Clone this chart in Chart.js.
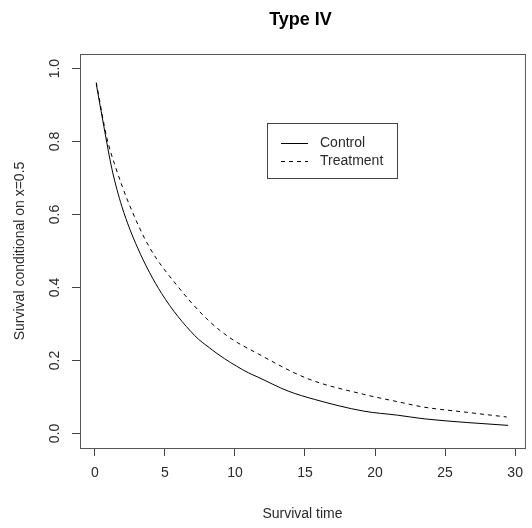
<!DOCTYPE html>
<html>
<head>
<meta charset="utf-8">
<title>Type IV</title>
<script src="https://cdn.jsdelivr.net/npm/chart.js@4.4.1/dist/chart.umd.min.js"></script>
<style>
  html, body { margin: 0; padding: 0; background: #fff; }
  canvas { display: block; }
</style>
</head>
<body>
<canvas id="chart" width="532" height="528"></canvas>
<script>
// values
const controlTime = [0.1, 0.64, 1.23, 1.93, 3.06, 4.76, 7.13, 8.2, 9.25, 10.97, 11.6, 13.8, 15.7, 19.2, 21.6, 23.5, 26.5, 29.5];
const controlSurv = [0.958, 0.842, 0.723, 0.622, 0.508, 0.384, 0.268, 0.234, 0.205, 0.166, 0.155, 0.116, 0.093, 0.061, 0.050, 0.040, 0.030, 0.022];
const treatTime = [0.1, 0.87, 1.46, 2.41, 3.87, 5.94, 8.07, 9.72, 11.37, 15.2, 19.2, 21.6, 23.5, 26.5, 29.4];
const treatSurv = [0.962, 0.808, 0.732, 0.632, 0.512, 0.402, 0.311, 0.260, 0.224, 0.150, 0.107, 0.087, 0.072, 0.058, 0.045];
const seriesNames = ['Control', 'Treatment'];
const xTickValues = [0, 5, 10, 15, 20, 25, 30];
const yTickValues = [0, 0.2, 0.4, 0.6, 0.8, 1.0];
const yTickLabels = ['0.0', '0.2', '0.4', '0.6', '0.8', '1.0'];

const toPoints = (xs, ys) => xs.map((x, i) => ({x: x, y: ys[i]}));

const family = '"Liberation Sans", Arial, sans-serif';
const ink = '#2a2a2a';

// title, plot frame and boxed legend, R style
const rDecor = {
  id: 'rDecor',
  afterDatasetsDraw(chart) {
    const {ctx, chartArea: a} = chart;
    ctx.save();
    ctx.strokeStyle = '#555';
    ctx.lineWidth = 1;
    ctx.setLineDash([]);
    ctx.strokeRect(a.left + 0.5, a.top + 0.5, a.right - a.left, a.bottom - a.top);

    ctx.fillStyle = '#000';
    ctx.font = 'bold 18px ' + family;
    ctx.textAlign = 'center';
    ctx.textBaseline = 'alphabetic';
    ctx.fillText('Type IV', (a.left + a.right) / 2 - 2, 25);

    // legend
    ctx.strokeStyle = '#444';
    ctx.strokeRect(267.5, 123.5, 130, 55);
    ctx.font = '14px ' + family;
    ctx.textAlign = 'left';
    ctx.textBaseline = 'middle';
    chart.data.datasets.forEach((ds, i) => {
      const y = 143 + i * 18;
      ctx.strokeStyle = ds.borderColor;
      ctx.setLineDash(ds.borderDash || []);
      ctx.beginPath();
      ctx.moveTo(281, y + 0.5);
      ctx.lineTo(308, y + 0.5);
      ctx.stroke();
      ctx.fillStyle = ink;
      ctx.fillText(ds.label, 320, y);
    });
    ctx.restore();
  }
};

new Chart(document.getElementById('chart'), {
  type: 'scatter',
  data: {
    datasets: [
      {
        label: seriesNames[0],
        data: toPoints(controlTime, controlSurv),
        showLine: true,
        borderColor: '#000',
        borderWidth: 1,
        pointRadius: 0,
        cubicInterpolationMode: 'monotone'
      },
      {
        label: seriesNames[1],
        data: toPoints(treatTime, treatSurv),
        showLine: true,
        borderColor: '#000',
        borderWidth: 1,
        borderDash: [4, 4],
        pointRadius: 0,
        cubicInterpolationMode: 'monotone'
      }
    ]
  },
  options: {
    responsive: false,
    animation: false,
    layout: { padding: { top: 54, right: 3, left: 0, bottom: 0 } },
    plugins: {
      legend: { display: false },
      tooltip: { enabled: false },
      title: { display: false }
    },
    scales: {
      x: {
        type: 'linear',
        min: -1.06,
        max: 30.7,
        afterBuildTicks: s => { s.ticks = xTickValues.map(v => ({value: v})); },
        afterFit: s => { s.height = 80; },
        border: { display: false },
        grid: { drawOnChartArea: false, drawTicks: true, tickLength: 8, color: '#444' },
        ticks: {
          padding: 9,
          color: ink,
          font: { family: family, size: 14 },
          maxRotation: 0,
          callback: v => String(v)
        },
        title: {
          display: true,
          text: 'Survival time',
          color: ink,
          font: { family: family, size: 14 },
          padding: { top: 0, bottom: 5 }
        }
      },
      y: {
        type: 'linear',
        min: -0.04,
        max: 1.04,
        afterBuildTicks: s => { s.ticks = yTickValues.map(v => ({value: v})); },
        afterFit: s => { s.width = 80; },
        border: { display: false },
        grid: { drawOnChartArea: false, drawTicks: true, tickLength: 8, color: '#444' },
        ticks: {
          padding: 7,
          color: ink,
          font: { family: family, size: 14 },
          minRotation: 90,
          maxRotation: 90,
          crossAlign: 'center',
          callback: (v, i) => yTickLabels[i]
        },
        title: {
          display: true,
          text: 'Survival conditional on x=0.5',
          color: ink,
          font: { family: family, size: 14 },
          padding: { top: 12, bottom: 0 }
        }
      }
    }
  },
  plugins: [rDecor]
});
</script>
</body>
</html>
